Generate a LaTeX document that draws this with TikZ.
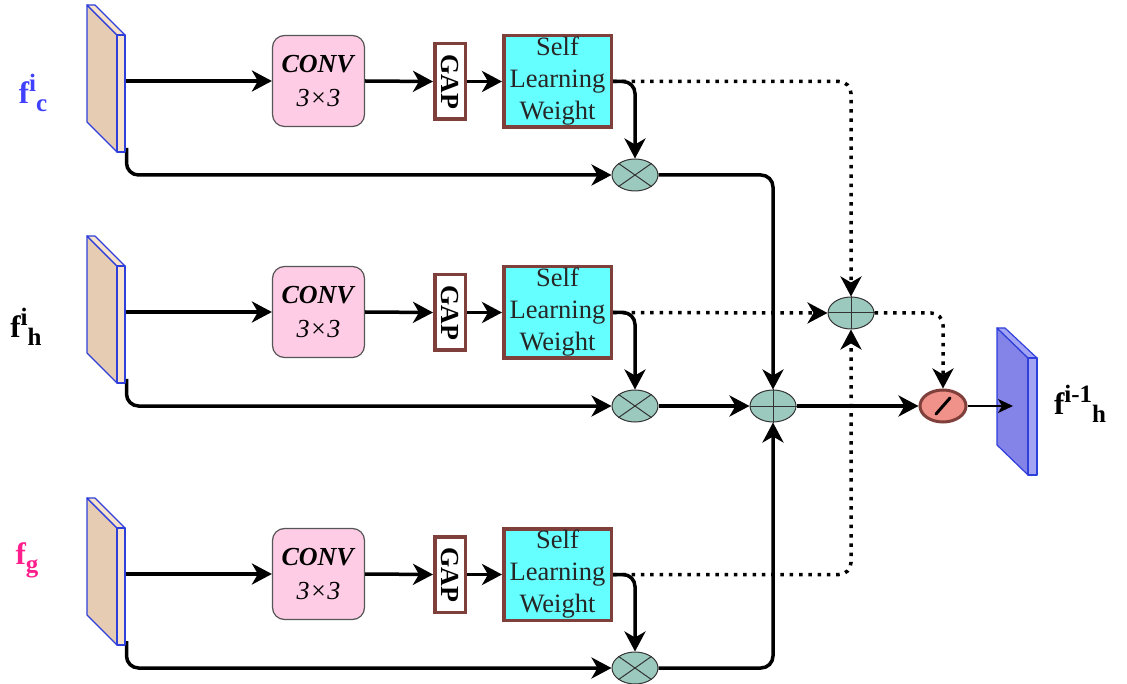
\documentclass[tikz,border=0pt]{standalone}
\usepackage{fontspec}
\setmainfont{Liberation Serif}
\usetikzlibrary{arrows.meta,shapes.geometric}
\definecolor{slabfront}{HTML}{E5CCB2}
\definecolor{slabside}{HTML}{F8E2CA}
\definecolor{slabline}{HTML}{2E3FDB}
\definecolor{outfront}{HTML}{8383E8}
\definecolor{outside}{HTML}{A4A4F4}
\definecolor{convfill}{HTML}{FFCCE6}
\definecolor{convline}{HTML}{555555}
\definecolor{brownline}{HTML}{7F3F3A}
\definecolor{slwfill}{HTML}{66FFFF}
\definecolor{opfill}{HTML}{9CC9BE}
\definecolor{divfill}{HTML}{F0928A}
\definecolor{lblblue}{HTML}{4040FF}
\definecolor{lblpink}{HTML}{FF1F8C}
\newcommand\supsub[2]{{\fontsize{31}{31}\selectfont f}\raisebox{12pt}{\fontsize{25}{25}\selectfont #1}\raisebox{-8pt}{\fontsize{25}{25}\selectfont #2}}
\tikzset{
  arr/.style={line width=3.5pt, -{Stealth[length=20pt,width=21pt,inset=6pt]}},
  dotarr/.style={line width=3.5pt, dash pattern=on 3.5pt off 5.8pt, -{Stealth[length=20pt,width=21pt,inset=6pt]}},
  thinarr/.style={line width=1.5pt, -{Stealth[length=15pt,width=14pt,inset=4pt]}},
  convbox/.style={draw=convline, fill=convfill, rounded corners=12pt, line width=1.2pt,
    minimum width=92pt, minimum height=91pt, inner sep=0pt, align=center,
    font=\fontsize{26}{34}\selectfont},
  gapbox/.style={draw=brownline, fill=white, line width=3.5pt, minimum width=30.5pt,
    minimum height=75.5pt, inner sep=0pt, font=\fontsize{26}{26}\selectfont\bfseries},
  slwbox/.style={draw=brownline, fill=slwfill, line width=3.5pt, minimum width=107.5pt,
    minimum height=91.5pt, inner sep=0pt, align=center, text=black!85,
    font=\fontsize{26.5}{32}\selectfont},
  opnode/.style={ellipse, draw=black!80, fill=opfill, line width=1pt,
    minimum width=46pt, minimum height=32pt, inner sep=0pt},
  divnode/.style={ellipse, draw=brownline, fill=divfill, line width=3pt,
    minimum width=46pt, minimum height=32pt, inner sep=0pt},
  lbl/.style={font=\bfseries, inner sep=0pt}
}
\begin{document}
\begin{tikzpicture}[x=1pt,y=-1pt]
\useasboundingbox (0,0) rectangle (1127,684);

% rows
\foreach \o/\i in {0/1,231/2,493/3}{
  \coordinate (s\i out) at (125,{81+\o});
  \coordinate (s\i bot) at (126.5,{148+\o});
  \node[convbox] (conv\i) at (318.5,{81+\o}) {\textbf{\textit{CONV}}\\\textit{3×3}};
  \node[gapbox] (gap\i) at (450,{81.5+\o}) {\rotatebox[origin=c]{-90}{GAP}};
  \node[slwbox] (slw\i) at (557.5,{81.5+\o}) {Self\\Learning\\Weight};
  \node[opnode] (mul\i) at (635,{175+\o}) {};
  \draw[line width=1pt, black!80] (mul\i.north west) -- (mul\i.south east)
       (mul\i.north east) -- (mul\i.south west);
}

\node[opnode] (add1) at (851,313) {};
\draw[line width=1pt, black!80] (add1.north) -- (add1.south) (add1.west) -- (add1.east);
\node[opnode] (add2) at (773,406) {};
\draw[line width=1pt, black!80] (add2.north) -- (add2.south) (add2.west) -- (add2.east);
\node[divnode] (div) at (943,406) {};
\draw[line width=3pt, line cap=round] ([shift={(-7,8)}]div.center) -- ([shift={(7,-8)}]div.center);

% dotted weights
\draw[dotarr, rounded corners=12pt] (slw1.east) -| (add1.north);
\draw[dotarr] (slw2.east) -- (add1.west);
\draw[dotarr, rounded corners=12pt] (add1.east) -| (div.north);

% solid paths in rows
\foreach \i in {1,2,3}{
  \draw[arr] (s\i out) -- (conv\i.west);
  \draw[arr] (conv\i.east) -- (gap\i.west);
  \draw[arr] (gap\i.east) -- (slw\i.west);
  \draw[arr, rounded corners=12pt] (slw\i.east) -| (mul\i.north);
  \draw[arr, rounded corners=12pt] (s\i bot) |- (mul\i.west);
}
\draw[arr, rounded corners=12pt] (mul1.east) -| (add2.north);
\draw[arr] (mul2.east) -- (add2.west);
\draw[arr] (add2.east) -- (div.west);
\draw[dotarr, rounded corners=12pt] (slw3.east) -| (add1.south);
\draw[arr, rounded corners=12pt] (mul3.east) -| (add2.south);

% input slabs
\foreach \o in {0,231,493}{
  \filldraw[fill=slabfront, draw=slabline, line width=1.2pt, line join=round]
    (87,{5+\o}) -- (117,{35+\o}) -- (117,{152+\o}) -- (87,{122+\o}) -- cycle;
  \filldraw[fill=slabside, draw=slabline, line width=1.2pt, line join=round]
    (87,{5+\o}) -- (95,{5+\o}) -- (125,{35+\o}) -- (117,{35+\o}) -- cycle;
  \filldraw[fill=slabside, draw=slabline, line width=1.2pt, line join=round]
    (117,{35+\o}) -- (125,{35+\o}) -- (125,{152+\o}) -- (117,{152+\o}) -- cycle;
}

% output slab
\filldraw[fill=outfront, draw=slabline, line width=1.2pt, line join=round]
  (997,328) -- (1028,358) -- (1028,475) -- (997,445) -- cycle;
\filldraw[fill=outside, draw=slabline, line width=1.2pt, line join=round]
  (997,328) -- (1005,328) -- (1037,358) -- (1028,358) -- cycle;
\filldraw[fill=outside, draw=slabline, line width=1.2pt, line join=round]
  (1028,358) -- (1037,358) -- (1037,475) -- (1028,475) -- cycle;
\coordinate (outtip) at (1013,406);
\draw[thinarr] (div.east) -- (outtip);

% labels
\node[lbl, text=lblblue] (lc) at (33,93) {\supsub{i}{c}};
\node[lbl] (lh) at (26,327) {\supsub{i}{h}};
\node[lbl, text=lblpink] (lg) at (27,560) {{\fontsize{31}{31}\selectfont f}\raisebox{-8pt}{\fontsize{25}{25}\selectfont g}};
\node[lbl] (lo) at (1080,404) {\supsub{i-1}{h}};
\end{tikzpicture}
\end{document}
